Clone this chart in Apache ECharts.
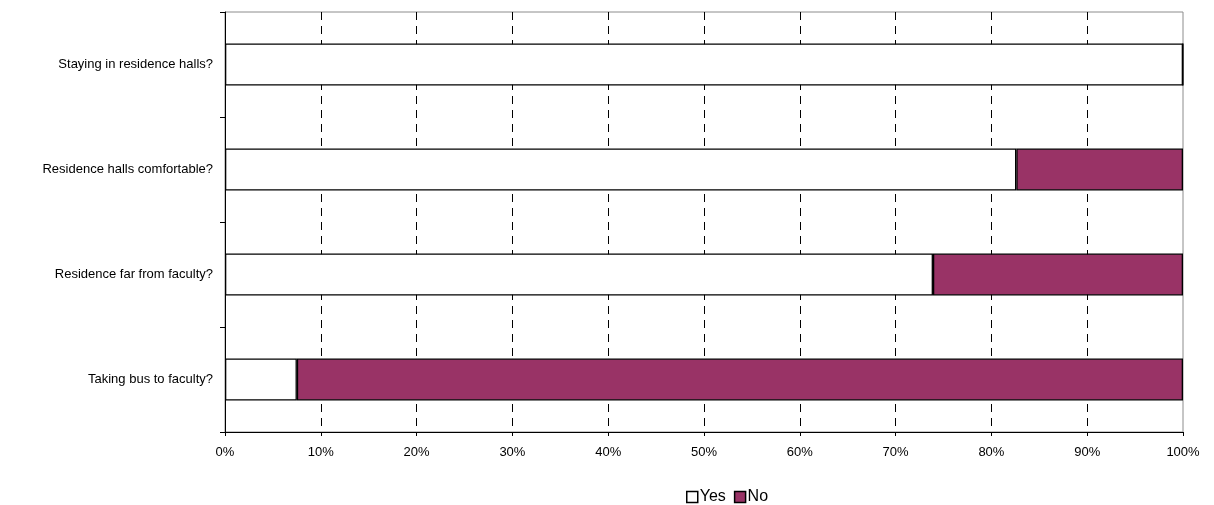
<!DOCTYPE html>
<html>
<head>
<meta charset="utf-8">
<script src="https://cdn.jsdelivr.net/npm/echarts@6/dist/echarts.min.js"></script>
<style>
  html, body { margin: 0; padding: 0; background: #fff; }
  #chart { width: 1214px; height: 505px; }
</style>
</head>
<body>
<div id="chart"></div>
<script>
// Survey questions, top to bottom
const categories = [
  'Staying in residence halls?',
  'Residence halls comfortable?',
  'Residence far from faculty?',
  'Taking bus to faculty?'
];
// Share of answers, in percent
const yesValues = [100, 82.6, 73.9, 7.5];
const noValues = [0, 17.4, 26.1, 92.5];
const xTicks = [0, 10, 20, 30, 40, 50, 60, 70, 80, 90, 100];

const font = 'Liberation Sans, Arial, sans-serif';
const chart = echarts.init(document.getElementById('chart'), null, { renderer: 'canvas' });

chart.setOption({
  animation: false,
  backgroundColor: '#fff',
  grid: {
    left: 225, right: 31, top: 12, bottom: 73,
    show: true, borderColor: '#8c8c8c', borderWidth: 1, backgroundColor: 'transparent'
  },
  legend: {
    left: 681, top: 484,
    itemWidth: 11, itemHeight: 11, itemGap: 8,
    icon: 'rect',
    textStyle: { fontFamily: font, fontSize: 16, color: '#000', padding: [0, 0, 0, -3] },
    data: [
      { name: 'Yes', itemStyle: { color: '#fff', borderColor: '#000', borderWidth: 1.5 } },
      { name: 'No', itemStyle: { color: '#993366', borderColor: '#000', borderWidth: 1.5 } }
    ]
  },
  xAxis: {
    type: 'value',
    min: xTicks[0], max: xTicks[xTicks.length - 1], interval: 10,
    axisLine: { show: true, lineStyle: { color: '#000', width: 1 } },
    axisTick: { show: true, length: 4, lineStyle: { color: '#000' } },
    axisLabel: {
      color: '#000', fontFamily: font, fontSize: 13, margin: 14,
      formatter: v => v + '%'
    },
    splitLine: {
      show: true, showMinLine: false, showMaxLine: false,
      lineStyle: { color: '#000', type: [8, 6], width: 1 }
    }
  },
  yAxis: {
    type: 'category',
    inverse: true,
    data: categories,
    axisLine: { show: true, lineStyle: { color: '#000', width: 1 } },
    axisTick: { show: true, length: 5, inside: false, alignWithLabel: false, lineStyle: { color: '#000' } },
    axisLabel: { color: '#000', fontFamily: font, fontSize: 13, margin: 12 },
    splitLine: { show: false }
  },
  series: [
    {
      name: 'Yes', type: 'bar', stack: 'total', barWidth: 42,
      data: yesValues,
      itemStyle: { color: '#fff', borderColor: '#000', borderWidth: 1.3 }
    },
    {
      name: 'No', type: 'bar', stack: 'total', barWidth: 42,
      data: noValues,
      itemStyle: { color: '#993366', borderColor: '#000', borderWidth: 1.3 }
    }
  ]
});
</script>
</body>
</html>
